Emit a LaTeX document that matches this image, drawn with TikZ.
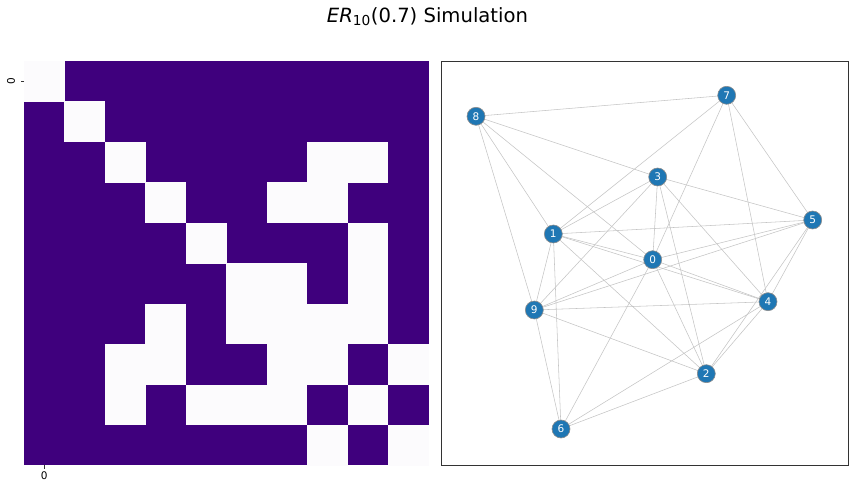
\documentclass[tikz,border=0pt]{standalone}
\usepackage{fontspec}
\setmainfont{DejaVu Sans}
\usetikzlibrary{backgrounds}
\definecolor{darkpurple}{HTML}{3F007D}
\definecolor{lightcell}{HTML}{FCFBFD}
\definecolor{nodeblue}{HTML}{1F77B4}
\definecolor{edgegray}{HTML}{C4C4C4}
\definecolor{framegray}{HTML}{333333}
\tikzset{
  gnode/.style={circle, fill=nodeblue, draw=gray!90, line width=0.6pt, minimum size=18pt, inner sep=0pt, text=white, font=\fontsize{10.5}{12}\selectfont},
  gedge/.style={draw=edgegray, line width=0.55pt},
  ticklabel/.style={font=\fontsize{10.5}{12}\selectfont, inner sep=0pt},
  tickmark/.style={draw=black!80, line width=0.8pt}
}
\begin{document}
\begin{tikzpicture}[x=1pt,y=-1pt]
\useasboundingbox (0,0) rectangle (855,489);
% title
\node[font=\fontsize{19.6}{22}\selectfont] (title) at (427.5,17) {\textit{ER}\textsubscript{10}(0.7) Simulation};
% matrix
\def\cs{40.45}
\fill[darkpurple] (24,61) rectangle +(404.5,404);
\foreach \r/\c in {0/0,1/1,2/2,3/3,4/4,5/5,6/6,7/7,8/8,9/9,
  2/7,2/8,7/2,8/2,3/6,3/7,6/3,7/3,4/8,8/4,5/6,6/5,5/8,8/5,6/7,7/6,6/8,8/6,7/9,9/7}{
  \fill[lightcell] (24+\c*\cs,61+\r*\cs) rectangle +(\cs+0.3,\cs+0.3);
}
% ticks
\coordinate (lt) at (24,81.2);
\draw[tickmark] (lt) -- ++(-3.5,0);
\node[ticklabel, rotate=90] (ly) at (11,81.2) {0};
\coordinate (bt) at (44.2,465);
\draw[tickmark] (bt) -- ++(0,3.5);
\node[ticklabel] (bx) at (44.2,476) {0};
% graph frame
\draw[framegray, line width=0.9pt] (441.3,61.3) rectangle (848.7,465.3);
% nodes
\node[gnode] (n0) at (652.7,259.7) {0};
\node[gnode] (n1) at (553.3,234) {1};
\node[gnode] (n2) at (706.3,373.7) {2};
\node[gnode] (n3) at (657.7,177) {3};
\node[gnode] (n4) at (768,301.7) {4};
\node[gnode] (n5) at (812.7,220) {5};
\node[gnode] (n6) at (561,429) {6};
\node[gnode] (n7) at (726.7,95.3) {7};
\node[gnode] (n8) at (476,116.3) {8};
\node[gnode] (n9) at (534.3,310) {9};
\begin{pgfonlayer}{background}
\foreach \a/\b in {0/1,0/2,0/3,0/4,0/5,0/6,0/7,0/8,0/9,
  1/2,1/3,1/4,1/5,1/6,1/7,1/8,1/9,
  2/3,2/4,2/5,2/6,2/9,
  3/4,3/5,3/8,3/9,
  4/5,4/6,4/7,4/9,
  5/7,5/9,
  6/9,
  7/8,
  8/9}{
  \draw[gedge] (n\a.center) -- (n\b.center);
}
\end{pgfonlayer}
\end{tikzpicture}
\end{document}
